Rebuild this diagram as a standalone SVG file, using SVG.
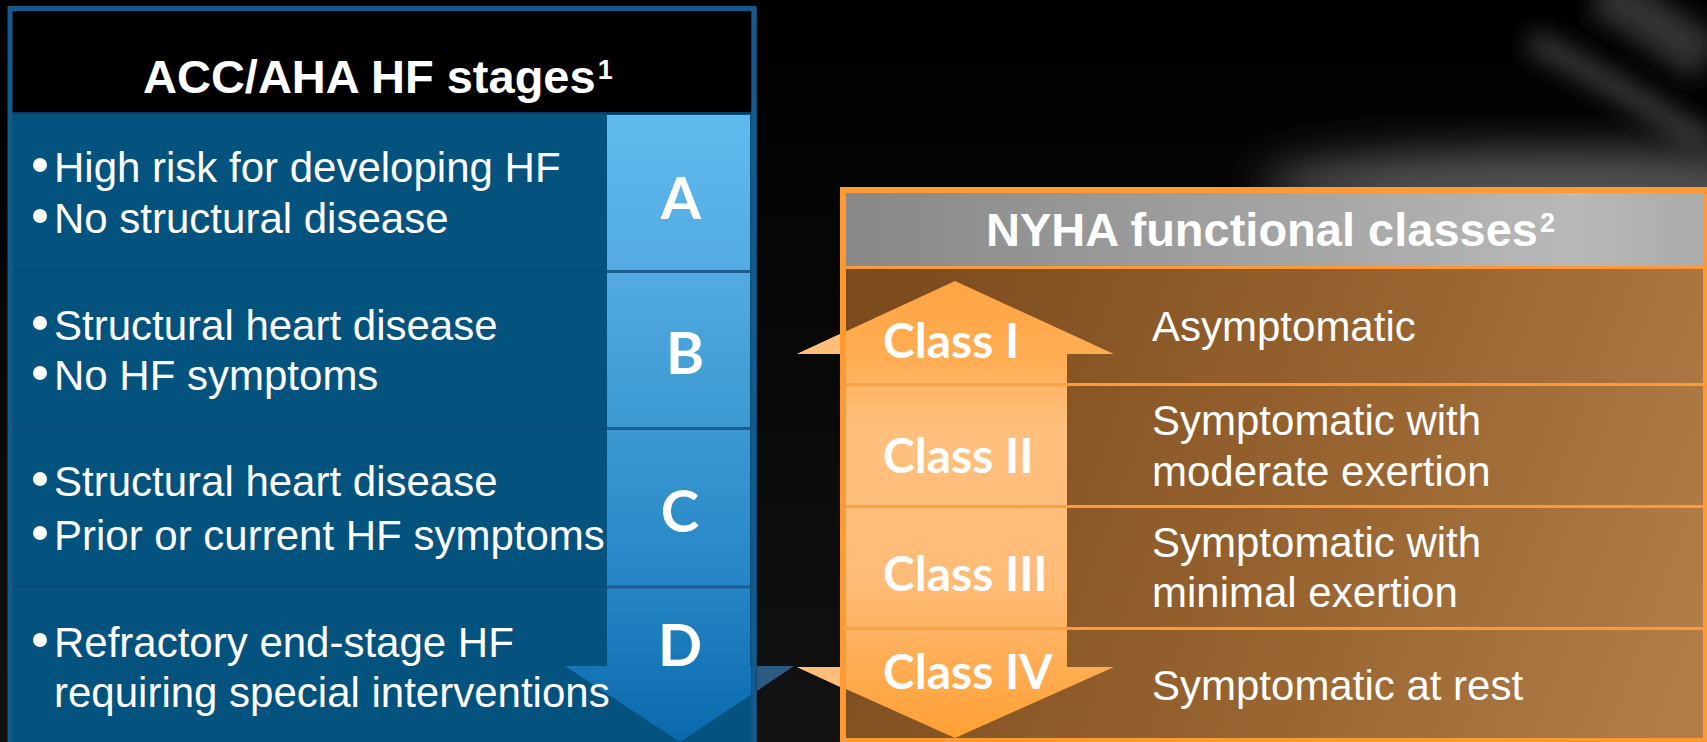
<svg xmlns="http://www.w3.org/2000/svg" width="1707" height="742" viewBox="0 0 1707 742">
<style>
.body{font-family:"Liberation Sans",Arial,sans-serif;font-size:42px;fill:#fff}
.hdr{font-family:"Liberation Sans",Arial,sans-serif;font-size:47px;font-weight:bold;fill:#fff}
.sup{font-size:27px}
.cls{font-family:Lato,"Liberation Sans",sans-serif;font-size:48px;font-weight:bold;fill:#fff}
.ltr{font-family:Lato,"Liberation Sans",sans-serif;font-size:58px;font-weight:bold;fill:#fff;text-anchor:middle}
.bul{fill:#fff}
</style>
<defs>
<filter id="blur8" x="-50%" y="-50%" width="200%" height="200%"><feGaussianBlur stdDeviation="12"/></filter>
<filter id="blur20" x="-50%" y="-50%" width="200%" height="200%"><feGaussianBlur stdDeviation="22"/></filter>
<linearGradient id="bg" x1="0" y1="0" x2="0" y2="1">
<stop offset="0" stop-color="#000"/><stop offset="0.35" stop-color="#060606"/><stop offset="1" stop-color="#121212"/>
</linearGradient>
<linearGradient id="ltrG" gradientUnits="userSpaceOnUse" x1="0" y1="115" x2="0" y2="742">
<stop offset="0" stop-color="#5fbaee"/><stop offset="0.25" stop-color="#53abe1"/><stop offset="0.5" stop-color="#3b98d1"/><stop offset="0.75" stop-color="#2585c5"/><stop offset="1" stop-color="#0a69ab"/>
</linearGradient>
<linearGradient id="grayG" gradientUnits="userSpaceOnUse" x1="846" y1="0" x2="1703" y2="0">
<stop offset="0" stop-color="#888"/><stop offset="0.55" stop-color="#a6a6a6"/><stop offset="0.85" stop-color="#b9b9b9"/><stop offset="1" stop-color="#ababab"/>
</linearGradient>
<linearGradient id="brownG" gradientUnits="userSpaceOnUse" x1="900" y1="300" x2="1707" y2="600">
<stop offset="0" stop-color="#7d4c1e"/><stop offset="0.45" stop-color="#93602d"/><stop offset="0.6" stop-color="#9a6632"/><stop offset="1" stop-color="#b17c48"/>
</linearGradient>
<linearGradient id="orgG" gradientUnits="userSpaceOnUse" x1="0" y1="281" x2="0" y2="738">
<stop offset="0" stop-color="#ffa443"/><stop offset="0.17" stop-color="#ffad53"/><stop offset="0.32" stop-color="#ffc07e"/><stop offset="0.65" stop-color="#ffbc78"/><stop offset="0.85" stop-color="#ffac52"/><stop offset="1" stop-color="#ffa033"/>
</linearGradient>
<clipPath id="leftClip"><rect x="0" y="0" width="751" height="742"/></clipPath>
</defs>

<!-- background -->
<rect width="1707" height="742" fill="url(#bg)"/>
<ellipse cx="1560" cy="185" rx="300" ry="35" fill="#555" filter="url(#blur20)"/>
<path d="M1530,40 Q1620,85 1707,145" stroke="#3e3e3e" stroke-width="22" fill="none" filter="url(#blur8)"/>
<path d="M1600,-10 Q1660,25 1707,60" stroke="#333" stroke-width="50" fill="none" filter="url(#blur8)"/>

<!-- left panel -->
<g id="acc-aha-panel">
<rect x="10" y="8.5" width="744" height="740" fill="#04527e" stroke="#155a8c" stroke-width="5"/>
<rect x="12.5" y="11" width="739" height="101" fill="#000"/>
<line x1="12.5" y1="113" x2="751.5" y2="113" stroke="#0b3c60" stroke-width="2"/>
<line x1="13" y1="271.5" x2="607" y2="271.5" stroke="#0a4b76" stroke-width="2"/>
<line x1="13" y1="428.5" x2="607" y2="428.5" stroke="#0a4b76" stroke-width="2"/>
<line x1="13" y1="587" x2="607" y2="587" stroke="#0a4b76" stroke-width="2"/>
<text class="hdr" x="143" y="93">ACC/AHA HF stages<tspan class="sup" dx="2" dy="-14">1</tspan></text>
</g>

<g id="stage-arrow">
<path clip-path="url(#leftClip)" d="M607,115 H750 V666 H794 L680,742 L565,666 H607 Z" fill="url(#ltrG)"/>
<path d="M757,666 H794 L757,691 Z" fill="#2c5a80"/>
<line x1="607" y1="271.5" x2="750" y2="271.5" stroke="#1a5d8e" stroke-width="3"/>
<line x1="607" y1="428.5" x2="750" y2="428.5" stroke="#1a5d8e" stroke-width="3"/>
<line x1="607" y1="587" x2="750" y2="587" stroke="#1a5d8e" stroke-width="3"/>
<line x1="754" y1="8.5" x2="754" y2="742" stroke="#155a8c" stroke-width="5"/>
</g>

<g id="stage-a">
<circle class="bul" cx="40" cy="165" r="7"/><circle class="bul" cx="40" cy="216" r="7"/>
<text class="body" x="54" y="182">High risk for developing HF</text>
<text class="body" x="54" y="233">No structural disease</text>
<text class="ltr" x="681" y="219">A</text>
</g>
<g id="stage-b">
<circle class="bul" cx="40" cy="323" r="7"/><circle class="bul" cx="40" cy="373" r="7"/>
<text class="body" x="54" y="340">Structural heart disease</text>
<text class="body" x="54" y="390">No HF symptoms</text>
<text class="ltr" x="685" y="374">B</text>
</g>
<g id="stage-c">
<circle class="bul" cx="40" cy="479" r="7"/><circle class="bul" cx="40" cy="533" r="7"/>
<text class="body" x="54" y="496">Structural heart disease</text>
<text class="body" x="54" y="550">Prior or current HF symptoms</text>
<text class="ltr" x="680" y="532">C</text>
</g>
<g id="stage-d">
<circle class="bul" cx="40" cy="640" r="7"/>
<text class="body" x="54" y="657">Refractory end-stage HF</text>
<text class="body" x="54" y="707">requiring special interventions</text>
<text class="ltr" x="680" y="666">D</text>
</g>

<!-- right panel -->
<g id="nyha-panel">
<rect x="840" y="187" width="867" height="555" fill="#ff9933"/>
<rect x="846" y="193" width="857" height="73" fill="url(#grayG)"/>
<rect x="846" y="269" width="857" height="114" fill="url(#brownG)"/>
<rect x="846" y="386" width="857" height="119" fill="url(#brownG)"/>
<rect x="846" y="508" width="857" height="119" fill="url(#brownG)"/>
<rect x="846" y="630" width="857" height="108" fill="url(#brownG)"/>
<text class="hdr" x="986" y="246">NYHA functional classes<tspan class="sup" dx="2" dy="-14">2</tspan></text>
</g>

<g id="class-arrow">
<path d="M846,354 H797 L955,281 L1114,354 H1067 V667 H1114 L955,738 L797,667 H846 Z" fill="url(#orgG)"/>
<path d="M797,354 L840,334 V354 Z" fill="#ffbf79"/>
<path d="M797,667 H840 V687 Z" fill="#ffbf79"/>
<line x1="846" y1="384.5" x2="1067" y2="384.5" stroke="#ffa040" stroke-width="3"/>
<line x1="846" y1="506.5" x2="1067" y2="506.5" stroke="#ffa040" stroke-width="3"/>
<line x1="846" y1="628.5" x2="1067" y2="628.5" stroke="#ffa040" stroke-width="3"/>
<rect x="840" y="187" width="6" height="555" fill="#ff9933"/>
</g>

<g id="class-1">
<text class="cls" x="883" y="358">Class I</text>
<text class="body" x="1152" y="341">Asymptomatic</text>
</g>
<g id="class-2">
<text class="cls" x="883" y="473">Class II</text>
<text class="body" x="1152" y="435">Symptomatic with</text>
<text class="body" x="1152" y="486">moderate exertion</text>
</g>
<g id="class-3">
<text class="cls" x="883" y="591">Class III</text>
<text class="body" x="1152" y="557">Symptomatic with</text>
<text class="body" x="1152" y="607">minimal exertion</text>
</g>
<g id="class-4">
<text class="cls" x="883" y="689">Class IV</text>
<text class="body" x="1152" y="700">Symptomatic at rest</text>
</g>
<g id="connectors"></g>
</svg>
